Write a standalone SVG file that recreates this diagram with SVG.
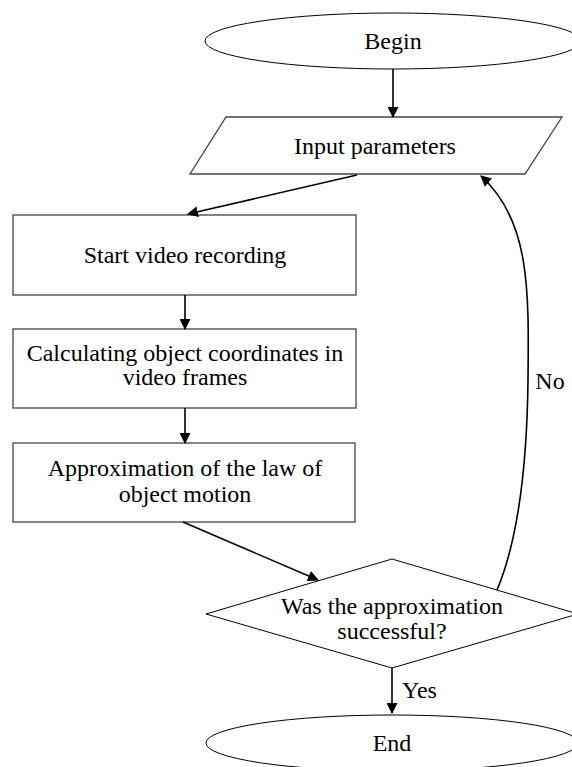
<svg xmlns="http://www.w3.org/2000/svg" width="572" height="767" viewBox="0 0 572 767">
<style>
.s{fill:#fff;stroke:#000;stroke-width:1}
.b{fill:#fff;stroke:#444;stroke-width:1.3}
.t{font-family:"Liberation Serif","Times New Roman",serif;font-size:24px;fill:#000;text-anchor:middle}
.c{fill:none;stroke:#000;stroke-width:1.6}
</style>
<defs>
<marker id="ah" markerWidth="11" markerHeight="11" refX="10" refY="5.5" orient="auto" markerUnits="userSpaceOnUse">
<path d="M0,0 L11,5.5 L0,11 z" fill="#000"/>
</marker>
</defs>
<rect width="572" height="767" fill="#fff"/>
<g id="begin">
<ellipse class="s" cx="393" cy="41" rx="188" ry="28"/>
<text class="t" x="393" y="49">Begin</text>
</g>
<g id="input">
<polygon class="b" points="226,117 562,117 525,174 190,174"/>
<text class="t" x="375" y="154">Input parameters</text>
</g>
<g id="start">
<rect class="b" x="13" y="215" width="343" height="80"/>
<text class="t" x="185" y="263">Start video recording</text>
</g>
<g id="calc">
<rect class="b" x="13" y="329" width="343" height="79"/>
<text class="t" x="185" y="361">Calculating object coordinates in</text>
<text class="t" x="185" y="385">video frames</text>
</g>
<g id="approx">
<rect class="b" x="13" y="443" width="342" height="79"/>
<text class="t" x="185" y="476">Approximation of the law of</text>
<text class="t" x="185" y="502">object motion</text>
</g>
<g id="decision">
<polygon class="s" points="392,559 578,614 392,668 206,614"/>
<text class="t" x="392" y="614">Was the approximation</text>
<text class="t" x="392" y="639">successful?</text>
</g>
<g id="end">
<ellipse class="s" cx="392" cy="743" rx="186" ry="28"/>
<text class="t" x="392" y="751">End</text>
</g>
<g id="connectors">
<line class="c" x1="393" y1="69" x2="393" y2="117" marker-end="url(#ah)"/>
<line class="c" x1="357" y1="175" x2="188" y2="214" marker-end="url(#ah)"/>
<line class="c" x1="185" y1="295" x2="185" y2="329" marker-end="url(#ah)"/>
<line class="c" x1="185" y1="408" x2="185" y2="443" marker-end="url(#ah)"/>
<line class="c" x1="183" y1="522" x2="318" y2="580" marker-end="url(#ah)"/>
<line class="c" x1="392" y1="668" x2="392" y2="713" marker-end="url(#ah)"/>
<path class="c" d="M497,590 C518,540 527,470 528,380 C529,290 530,220 481,176" marker-end="url(#ah)"/>
<text class="t" x="550" y="389">No</text>
<text class="t" x="402" y="698" style="text-anchor:start">Yes</text>
</g>
</svg>
